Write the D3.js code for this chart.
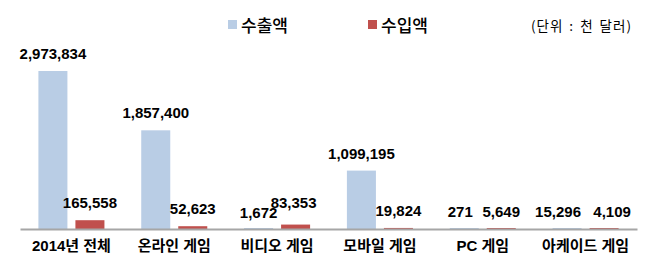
<!DOCTYPE html>
<html>
<head>
<meta charset="utf-8">
<script src="https://cdn.jsdelivr.net/npm/d3@7"></script>
<style>
  body { margin: 0; background: #fff; }
  svg { display: block; }
</style>
</head>
<body>
<div id="chart"></div>
<script>
// 게임 수출입액 (단위: 천 달러)
const categories = ["2014년 전체", "온라인 게임", "비디오 게임", "모바일 게임", "PC 게임", "아케이드 게임"];
const seriesNames = ["수출액", "수입액"];
const exports = [2973834, 1857400, 1672, 1099195, 271, 15296];
const imports = [165558, 52623, 83353, 19824, 5649, 4109];
const unitLabel = "(단위 : 천 달러)";

const BLUE = "#B9CDE5";
const RED = "#C0504D";

const width = 660, height = 274;
const baseY = 229;

// label nudges so small neighbouring values don't collide (like the original)
const labelShift = [
    [[0, 12], [0, 12]],
    [[0, 12], [0, 12]],
    [[0, 10], [-2, 17]],
    [[0, 12], [0, 12]],
    [[-4, 11], [0, 11]],
    [[-9, 11], [8, 11]]
];

const svg = d3.select("#chart").append("svg")
    .attr("width", width)
    .attr("height", height);

const rows = categories.map((c, i) => ({
    cat: c,
    values: [exports[i], imports[i]].map((v, j) => ({name: seriesNames[j], value: v, shift: labelShift[i][j]}))
}));

const x0 = d3.scaleBand()
    .domain(categories)
    .range([20, 637]);

const x1 = d3.scaleBand()
    .domain(seriesNames)
    .range([0, x0.bandwidth()])
    .paddingInner(0.216)
    .paddingOuter(0.497);

const y = d3.scaleLinear()
    .domain([0, d3.max(exports)])
    .range([baseY, 71]);

const colors = d3.scaleOrdinal().domain(seriesNames).range([BLUE, RED]);

const latin = "Arial, 'Liberation Sans', 'Noto Sans CJK KR', sans-serif";
const korean = "'Malgun Gothic', 'Noto Sans CJK KR', sans-serif";

const barTop = v => Math.min(y(v), baseY - 1);

// bars
const groups = svg.selectAll(".group")
    .data(rows)
    .enter().append("g")
    .attr("class", "group")
    .attr("transform", d => "translate(" + x0(d.cat) + ",0)");

groups.selectAll("rect")
    .data(d => d.values)
    .enter().append("rect")
    .attr("x", d => x1(d.name))
    .attr("width", x1.bandwidth())
    .attr("y", d => barTop(d.value))
    .attr("height", d => baseY - barTop(d.value))
    .attr("fill", d => colors(d.name));

groups.selectAll("text.val")
    .data(d => d.values)
    .enter().append("text")
    .attr("class", "val")
    .attr("x", d => x1(d.name) + x1.bandwidth() / 2 + d.shift[0])
    .attr("y", d => barTop(d.value) - d.shift[1])
    .attr("text-anchor", "middle")
    .style("font-family", latin)
    .style("font-weight", "bold")
    .style("font-size", "15px")
    .attr("fill", "#000")
    .text(d => d3.format(",")(d.value));

// axis line + category labels
const axis = svg.append("g")
    .attr("transform", "translate(0," + baseY + ")")
    .call(d3.axisBottom(x0).tickSize(0).tickPadding(11));

axis.select(".domain")
    .attr("stroke", "#A6A6A6")
    .attr("stroke-width", 2);

axis.selectAll(".tick text")
    .style("font-family", latin)
    .style("font-weight", "bold")
    .style("font-size", "15px")
    .attr("fill", "#000");

// legend
const legend = svg.append("g");
const legendX = [228, 368];

seriesNames.forEach(function(name, i) {
    legend.append("rect")
        .attr("x", legendX[i])
        .attr("y", 20)
        .attr("width", 9)
        .attr("height", 9)
        .attr("fill", colors(name));

    legend.append("text")
        .attr("x", legendX[i] + 13)
        .attr("y", 32)
        .style("font-family", korean)
        .style("font-size", "17px")
        .style("font-weight", 500)
        .attr("fill", "#000")
        .text(name);
});

svg.append("text")
    .attr("x", 632)
    .attr("y", 31)
    .attr("text-anchor", "end")
    .style("font-family", korean)
    .style("font-size", "13.5px")
    .style("letter-spacing", "1px")
    .style("word-spacing", "2px")
    .attr("fill", "#000")
    .text(unitLabel);
</script>
</body>
</html>
